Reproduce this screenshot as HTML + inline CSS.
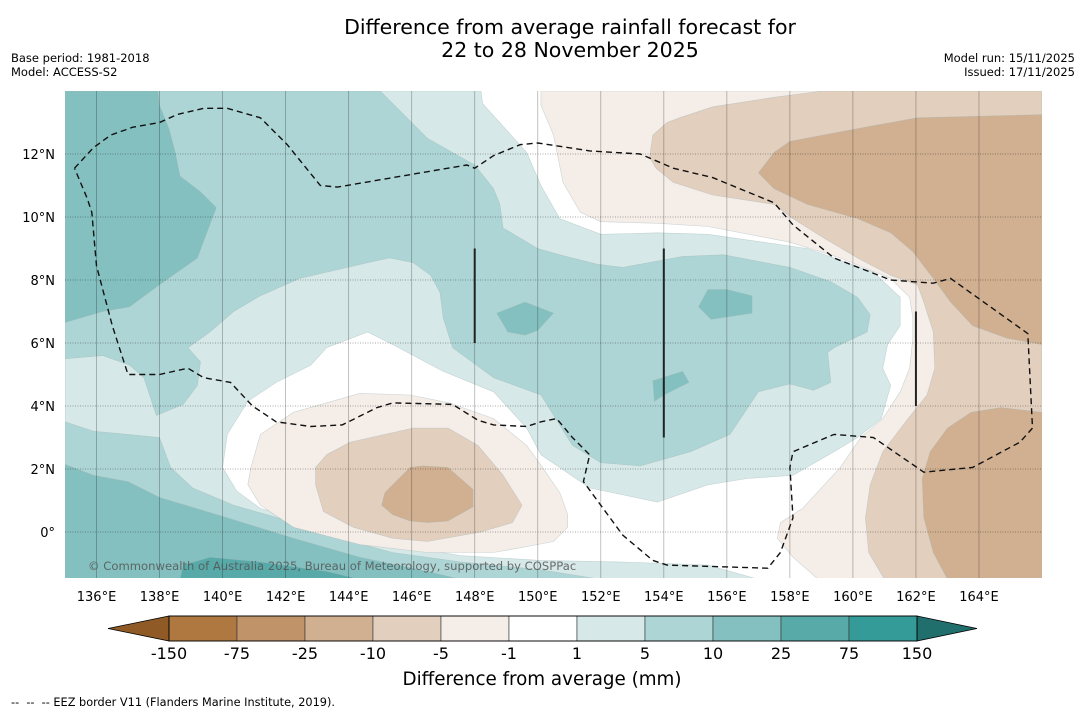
<!DOCTYPE html>
<html><head><meta charset="utf-8"><style>
html,body{margin:0;padding:0;background:#fff;}
svg text{font-family:"DejaVu Sans","Liberation Sans",sans-serif;}
</style></head><body>
<svg id="chart" width="1085" height="713" viewBox="0 0 1085 713" xmlns="http://www.w3.org/2000/svg">
<rect x="0" y="0" width="1085" height="713" fill="#fff"/>
<text x="570" y="34" font-size="20.5" text-anchor="middle">Difference from average rainfall forecast for</text>
<text x="570" y="57" font-size="20.5" text-anchor="middle">22 to 28 November 2025</text>
<text x="11" y="62" font-size="11.5">Base period: 1981-2018</text>
<text x="11" y="76" font-size="11.5">Model: ACCESS-S2</text>
<text x="1075" y="62" font-size="11.5" text-anchor="end">Model run: 15/11/2025</text>
<text x="1075" y="76" font-size="11.5" text-anchor="end">Issued: 17/11/2025</text>
<defs><clipPath id="mapclip"><rect x="65" y="91" width="977" height="487"/></clipPath></defs>
<g id="map" clip-path="url(#mapclip)"></g>
<g id="axes"></g>
<g id="cbar"></g>
<text x="542" y="685" font-size="18.3" text-anchor="middle">Difference from average (mm)</text>
<text x="11" y="706" font-size="11.3" xml:space="preserve" style="white-space:pre">--  --  -- EEZ border V11 (Flanders Marine Institute, 2019).</text>
</svg>
<script>
const lonTicks=[136,138,140,142,144,146,148,150,152,154,156,158,160,162,164];
const latTicks=[0,2,4,6,8,10,12];
const cbarLevels=["-150","-75","-25","-10","-5","-1","1","5","10","25","75","150"];
const cbarColors=["#ae7840","#c09468","#d1b091","#e3cfbe","#f5ede8","#ffffff","#d6e9e8","#aed5d5","#84c0c0","#58aaa9","#349b98"];
const cbarEnds=["#8f5a25","#216f6d"];
const fillLight=[[135,14],[148.2,14],[148.25,13.6],[149.65,12.05],[150.1,11.0],[150.7,9.95],[152.0,9.45],[153.8,9.5],[155.4,9.45],[158.55,9.0],[160.65,8.25],[161.5,7.45],[161.5,6.55],[161.1,5.95],[160.95,5.2],[161.2,4.65],[160.9,3.6],[160.15,3.0],[159.4,2.55],[158.1,1.8],[156.65,1.7],[155.4,1.5],[153.8,0.95],[151.65,1.4],[150.1,2.45],[149.65,3.3],[148.6,4.45],[147.0,5.1],[145.4,5.95],[144.6,6.35],[143.3,5.85],[142.8,5.3],[141.7,4.75],[140.8,4.15],[140.15,3.1],[140.0,2.05],[140.45,1.3],[141.2,0.75],[143.3,0.15],[145.4,-0.4],[147.55,-0.75],[150.1,-0.9],[152.6,-0.95],[155.4,-1.05],[157.0,-1.5],[135,-1.5]];
const fillMed1=[[135,14],[145,14],[146.5,12.5],[148.0,11.65],[148.6,10.9],[148.8,10.4],[148.9,9.65],[150.0,9.0],[150.7,8.8],[151.9,8.5],[152.7,8.4],[154.6,8.75],[155.9,8.8],[158.0,8.4],[159.3,7.95],[160.15,7.45],[160.55,6.9],[160.45,6.35],[159.4,5.85],[159.2,5.7],[159.3,4.75],[158.75,4.5],[158.0,4.7],[157.0,4.45],[156.1,3.1],[154.85,2.55],[153.25,2.1],[152.0,2.2],[151.1,2.75],[150.1,4.35],[148.6,4.9],[147.3,5.85],[147.0,6.8],[146.9,7.6],[146.6,8.15],[146.05,8.55],[145.3,8.7],[144.6,8.55],[143.95,8.4],[142.45,8.05],[141.2,7.5],[140.35,7.0],[139.6,6.35],[138.9,5.85],[139.3,5.4],[139.2,4.65],[138.75,4.05],[137.9,3.7],[137.5,4.9],[137.05,5.3],[136.2,5.6],[135,5.5]];
const fillMed2=[[135,3.5],[135.9,3.2],[137.0,3.1],[138.0,3.0],[138.35,2.05],[139.05,1.4],[140.35,0.85],[141.75,0.45],[143.3,-0.1],[145.4,-0.65],[147.55,-0.95],[150.1,-1.2],[152.0,-1.5],[135,-1.5]];
const fillDark1=[[135,14],[137.95,14],[138.0,13.55],[138.3,12.8],[138.5,12.05],[138.65,11.3],[139.3,10.8],[139.8,10.3],[139.5,9.5],[139.2,8.7],[138.0,7.85],[137.05,7.15],[136.2,7.0],[135,6.65]];
const fillDark2=[[135,2.15],[135.9,1.8],[137.0,1.6],[138.0,1.1],[140.15,0.45],[142.25,-0.2],[144.35,-0.8],[146.5,-1.25],[147.55,-1.5],[135,-1.5]];
const fillDark3=[[148.7,6.95],[149.6,7.3],[150.5,6.95],[150.0,6.4],[149.6,6.25],[149.05,6.35]];
const fillDark4=[[155.1,7.15],[155.4,7.7],[156.0,7.7],[156.8,7.5],[156.8,6.95],[155.5,6.75]];
const fillDark5=[[153.65,4.8],[154.6,5.1],[154.8,4.75],[154.0,4.35],[153.7,4.15]];
const fillDeep1=[[138.65,-1.5],[138.75,-1.05],[139.6,-0.8],[141.2,-0.95],[143.3,-1.25],[144.35,-1.5]];
const fillDry1NE=[[150.1,14],[150.1,13.55],[150.5,12.6],[150.8,11.1],[151.35,10.15],[152.0,9.85],[153.8,9.8],[155.4,9.7],[158.0,9.2],[159.6,8.7],[161.2,8.05],[161.8,7.45],[161.9,6.8],[161.9,6.15],[161.8,5.2],[161.5,4.45],[160.95,3.6],[160.25,3.0],[159.6,2.05],[158.4,0.75],[157.7,0.3],[157.6,-0.2],[158.1,-0.8],[158.9,-1.5],[166,-1.5],[166,14]];
const fillDry2NE=[[153.55,11.9],[153.65,12.6],[154.1,13.0],[154.5,13.15],[155.55,13.5],[157.5,13.8],[159.05,14],[166,14],[166,-1.5],[161,-1.5],[160.5,-0.65],[160.4,0.45],[160.55,1.5],[160.95,2.55],[161.75,3.6],[162.35,4.35],[162.6,5.2],[162.55,6.35],[162.25,7.3],[162.05,7.85],[161.2,8.15],[160.15,8.7],[159.05,9.35],[158.1,9.95],[157.5,10.4],[155.55,10.7],[154.3,11.1],[153.75,11.55]];
const fillDry3NE=[[157.0,11.4],[157.5,12.05],[158.0,12.4],[159.05,12.6],[160.65,12.9],[162.05,13.15],[166,13.25],[166,5.95],[164.9,6.15],[163.8,6.55],[163.1,7.3],[162.55,8.05],[161.9,8.9],[161.2,9.5],[160.15,9.95],[158.55,10.4],[157.5,10.9]];
const fillDry3SE=[[166,3.8],[164.7,3.95],[163.75,3.8],[163.0,3.3],[162.45,2.55],[162.2,1.7],[162.25,0.45],[162.55,-0.65],[163.0,-1.5],[166,-1.5]];
const fillDry1SW=[[140.9,2.05],[141.2,3.1],[142.25,3.8],[144.35,4.4],[145.95,4.35],[147.2,4.1],[148.6,3.6],[149.65,2.75],[150.15,2.05],[150.7,1.25],[150.95,0.55],[150.95,0.15],[150.5,-0.3],[149.45,-0.5],[148.6,-0.65],[146.5,-0.65],[144.35,-0.4],[142.25,0.15],[141.2,0.85],[140.8,1.5]];
const fillDry2SW=[[142.95,2.05],[143.3,2.45],[144.05,2.85],[146.05,3.3],[147.15,3.3],[148.1,2.75],[148.9,1.8],[149.5,0.85],[149.2,0.3],[148.2,0.0],[146.5,-0.3],[145.4,-0.2],[144.15,0.15],[143.2,0.65],[142.95,1.5]];
const fillDry3SW=[[145.05,0.85],[145.15,1.25],[145.95,2.05],[146.35,2.1],[147.15,2.05],[147.95,1.35],[147.95,0.8],[147.15,0.35],[146.5,0.3],[145.95,0.35],[145.4,0.55]];
const eezLine=[[135.3,11.55],[135.9,12.2],[136.45,12.6],[137.15,12.85],[138.0,13.0],[138.55,13.25],[139.4,13.45],[140.15,13.45],[141.2,13.15],[142.05,12.3],[143.1,11.0],[143.65,10.95],[145.4,11.25],[147.75,11.65],[148.0,11.55],[148.6,11.95],[149.45,12.3],[150.0,12.35],[151.65,12.1],[153.25,12.0],[154.3,11.55],[155.55,11.25],[157.5,10.45],[158.1,9.75],[159.4,8.7],[161.2,8.0],[162.55,7.9],[163.1,8.05],[165.55,6.3],[165.7,3.3],[165.3,2.85],[163.8,2.05],[162.25,1.9],[160.65,3.0],[159.4,3.1],[158.1,2.55],[158.0,2.05],[158.1,0.45],[157.7,-0.65],[157.3,-1.15],[154.1,-1.05],[153.65,-0.9],[152.7,-0.1],[151.45,1.6],[151.65,2.45],[151.1,3.0],[150.6,3.6],[150.1,3.5],[149.65,3.35],[148.6,3.4],[148.1,3.55],[147.3,4.05],[145.4,4.1],[144.9,3.95],[143.8,3.4],[142.8,3.35],[141.7,3.5],[140.95,4.0],[140.25,4.75],[139.4,4.9],[138.9,5.2],[138.0,5.0],[137.0,5.0],[136.5,6.55],[136.0,8.45],[135.85,10.15],[135.7,10.6],[135.3,11.55]];
const eezSegments=[[[148,9],[148,6]],[[154,9],[154,3]],[[162,7],[162,4]]];

const NS='http://www.w3.org/2000/svg';
const X0=65,X1=1042,Y0=91,Y1=578;
const LON0=135,LON1=166,LAT0=14,LAT1=-1.46;
function xs(lon){return X0+(lon-LON0)/(LON1-LON0)*(X1-X0);}
function ys(lat){return Y0+(LAT0-lat)/(LAT0-LAT1)*(Y1-Y0);}
function mk(tag,attrs,parent){const e=document.createElementNS(NS,tag);for(const k in attrs)e.setAttribute(k,attrs[k]);parent.appendChild(e);return e;}
function pts(arr){return arr.map(p=>xs(p[0]).toFixed(1)+','+ys(p[1]).toFixed(1)).join(' ');}
const map=document.getElementById('map');
// [polygon, colour bin index into cbarColors, name]
const fills=[
 [fillLight,6,'fill-1-to-5'],[fillMed1,7,'fill-5-to-10-north'],[fillMed2,7,'fill-5-to-10-south'],
 [fillDark1,8,'fill-10-to-25-northwest'],[fillDark2,8,'fill-10-to-25-southwest'],
 [fillDark3,8,'fill-10-to-25-blob-a'],[fillDark4,8,'fill-10-to-25-blob-b'],[fillDark5,8,'fill-10-to-25-blob-c'],
 [fillDeep1,9,'fill-25-to-75-south'],
 [fillDry1NE,4,'fill-minus1-to-minus5-east'],[fillDry2NE,3,'fill-minus5-to-minus10-east'],
 [fillDry3NE,2,'fill-minus10-to-minus25-northeast'],[fillDry3SE,2,'fill-minus10-to-minus25-southeast'],
 [fillDry1SW,4,'fill-minus1-to-minus5-southwest'],[fillDry2SW,3,'fill-minus5-to-minus10-southwest'],[fillDry3SW,2,'fill-minus10-to-minus25-southwest']
];
mk('rect',{x:X0,y:Y0,width:X1-X0,height:Y1-Y0,fill:'#fff'},map);
fills.forEach(f=>{
 const p=mk('polygon',{points:pts(f[0]),fill:cbarColors[f[1]],stroke:'#9fb5b5','stroke-width':0.6,'stroke-opacity':0.5},map);
 
 
});
lonTicks.forEach(l=>{
 const g=mk('line',{x1:xs(l),x2:xs(l),y1:Y0,y2:Y1,stroke:'#000','stroke-opacity':0.3,'stroke-width':0.8},map);
 
 
});
latTicks.forEach(l=>{
 const g=mk('line',{x1:X0,x2:X1,y1:ys(l),y2:ys(l),stroke:'#000','stroke-opacity':0.45,'stroke-width':0.8,'stroke-dasharray':'1,1.5'},map);
 
 
});
const eez=mk('polyline',{points:pts(eezLine),fill:'none',stroke:'#111','stroke-width':1.4,'stroke-dasharray':'6,4'},map);


eezSegments.forEach(s=>{
 const l=mk('line',{x1:xs(s[0][0]),y1:ys(s[0][1]),x2:xs(s[1][0]),y2:ys(s[1][1]),stroke:'#222','stroke-width':2},map);
 
 
});
const cr=mk('text',{x:88,y:570,'font-size':11.6,fill:'#555','fill-opacity':0.85},map);
cr.textContent='© Commonwealth of Australia 2025, Bureau of Meteorology, supported by COSPPac';


const ax=document.getElementById('axes');
lonTicks.forEach(l=>{
 const t=mk('text',{x:xs(l),y:601,'font-size':13,'text-anchor':'middle'},ax);
 t.textContent=l+'°E';
 
 
});
latTicks.forEach(l=>{
 const t=mk('text',{x:55,y:ys(l)+5,'font-size':13,'text-anchor':'end'},ax);
 t.textContent=l===0?'0°':l+'°N';
 
 
});
const cb=document.getElementById('cbar');
const CB0=169,CBW=68,CBY=616,CBH=25;
const n=cbarColors.length;
const lt=mk('polygon',{points:`108,${CBY+CBH/2} ${CB0},${CBY} ${CB0},${CBY+CBH}`,fill:cbarEnds[0],stroke:'#000','stroke-width':0.8},cb);


const rx=CB0+n*CBW;
const rt=mk('polygon',{points:`${rx},${CBY} ${rx+60},${CBY+CBH/2} ${rx},${CBY+CBH}`,fill:cbarEnds[1],stroke:'#000','stroke-width':0.8},cb);


cbarColors.forEach((c,i)=>{
 const r=mk('rect',{x:CB0+i*CBW,y:CBY,width:CBW,height:CBH,fill:c,stroke:'#333','stroke-width':0.6},cb);
 
 
});
mk('rect',{x:CB0,y:CBY,width:n*CBW,height:CBH,fill:'none',stroke:'#000','stroke-width':0.9},cb);
cbarLevels.forEach((v,i)=>{
 const t=mk('text',{x:CB0+i*CBW,y:659,'font-size':16,'text-anchor':'middle'},cb);
 t.textContent=v;
 
 
});
</script>
</body></html>
